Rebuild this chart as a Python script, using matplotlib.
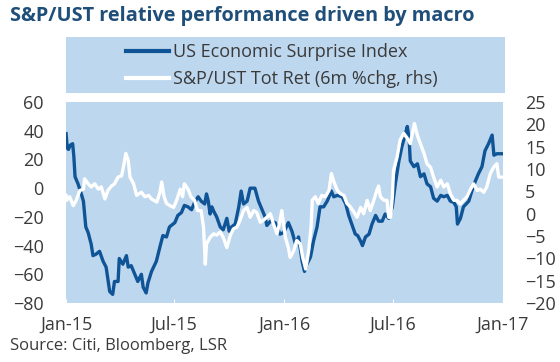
import pandas as pd
import matplotlib
matplotlib.use("Agg")
import matplotlib.pyplot as plt
import matplotlib.dates as mdates
from matplotlib.patches import Rectangle
from matplotlib.lines import Line2D

plt.rcParams['font.family'] = ['Open Sans', 'DejaVu Sans']

# US Economic Surprise Index (lhs)
esi_dates = [
    "2015-01-01", "2015-01-03", "2015-01-05", "2015-01-08", "2015-01-12", "2015-01-14",
    "2015-01-16", "2015-01-21", "2015-01-25", "2015-01-30", "2015-02-03", "2015-02-07",
    "2015-02-12", "2015-02-15", "2015-02-20", "2015-02-26", "2015-03-04", "2015-03-09",
    "2015-03-15", "2015-03-20", "2015-03-23", "2015-03-29", "2015-03-31", "2015-04-06",
    "2015-04-12", "2015-04-15", "2015-04-20", "2015-04-26", "2015-05-01", "2015-05-07",
    "2015-05-10", "2015-05-15", "2015-05-18", "2015-05-24", "2015-06-01", "2015-06-07",
    "2015-06-12", "2015-06-18", "2015-06-23", "2015-07-02", "2015-07-07", "2015-07-13",
    "2015-07-18", "2015-07-24", "2015-07-30", "2015-08-04", "2015-08-10", "2015-08-15",
    "2015-08-21", "2015-08-24", "2015-08-27", "2015-08-30", "2015-09-02", "2015-09-05",
    "2015-09-10", "2015-09-16", "2015-09-21", "2015-09-27", "2015-10-01", "2015-10-05",
    "2015-10-11", "2015-10-17", "2015-10-21", "2015-10-25", "2015-10-31", "2015-11-05",
    "2015-11-13", "2015-11-19", "2015-11-25", "2015-11-30", "2015-12-03", "2015-12-09",
    "2015-12-17", "2015-12-25", "2015-12-31", "2016-01-08", "2016-01-14", "2016-01-20",
    "2016-01-25", "2016-01-31", "2016-02-04", "2016-02-08", "2016-02-14", "2016-02-19",
    "2016-02-25", "2016-03-01", "2016-03-07", "2016-03-13", "2016-03-20", "2016-03-24",
    "2016-03-30", "2016-04-07", "2016-04-13", "2016-04-18", "2016-04-24", "2016-04-29",
    "2016-05-03", "2016-05-08", "2016-05-11", "2016-05-16", "2016-05-22", "2016-05-27",
    "2016-06-02", "2016-06-07", "2016-06-13", "2016-06-18", "2016-06-24", "2016-06-30",
    "2016-07-05", "2016-07-11", "2016-07-16", "2016-07-22", "2016-07-25", "2016-07-28",
    "2016-07-30", "2016-08-05", "2016-08-11", "2016-08-16", "2016-08-22", "2016-08-27",
    "2016-09-02", "2016-09-07", "2016-09-13", "2016-09-19", "2016-09-24", "2016-09-30",
    "2016-10-05", "2016-10-11", "2016-10-15", "2016-10-17", "2016-10-22", "2016-10-27",
    "2016-11-05", "2016-11-10", "2016-11-16", "2016-11-21", "2016-11-27", "2016-12-02",
    "2016-12-08", "2016-12-14", "2016-12-17", "2016-12-22", "2016-12-31",
]
esi_vals = [
    38, 28, 27, 30, 31, 22,
    8, 3, -2, -9, -27, -31,
    -39, -47, -46, -44, -51, -55,
    -72, -74, -65, -65, -49, -53,
    -47, -55, -54, -60, -65, -60,
    -69, -73, -66, -58, -51, -41,
    -33, -34, -27, -24, -19, -17,
    -12, -13, -15, -10, -6, -9,
    -11, -4, -9, -18, -13, -16,
    -20, -27, -29, -21, -30, -27,
    -25, -13, -2, -11, -9, 0,
    0, -9, -15, -20, -26, -23,
    -24, -32, -31, -24, -30, -39,
    -34, -51, -58, -53, -48, -37,
    -27, -13, -13, -9, -2, -6,
    -5, -6, -11, -19, -26, -32,
    -33, -37, -40, -34, -32, -25,
    -19, -23, -23, -18, -21, -13,
    3, 19, 29, 38, 43, 35,
    19, 15, 17, 8, 10, 3,
    1, -7, -9, -5, -6, -5,
    -9, -10, -13, -25, -21, -13,
    -9, -2, 5, 10, 15, 26,
    31, 37, 23, 24, 24,
]

# S&P/UST total return, 6m % change (rhs)
spx_dates = [
    "2015-01-01", "2015-01-02", "2015-01-07", "2015-01-13", "2015-01-18", "2015-01-24",
    "2015-01-30", "2015-02-01", "2015-02-07", "2015-02-12", "2015-02-18", "2015-02-24",
    "2015-03-01", "2015-03-07", "2015-03-12", "2015-03-18", "2015-03-23", "2015-03-29",
    "2015-04-04", "2015-04-08", "2015-04-11", "2015-04-15", "2015-04-18", "2015-04-24",
    "2015-04-29", "2015-05-07", "2015-05-13", "2015-05-19", "2015-05-24", "2015-06-02",
    "2015-06-07", "2015-06-10", "2015-06-14", "2015-06-18", "2015-06-24", "2015-06-30",
    "2015-07-05", "2015-07-11", "2015-07-15", "2015-07-18", "2015-07-24", "2015-07-29",
    "2015-08-04", "2015-08-09", "2015-08-15", "2015-08-19", "2015-08-22", "2015-08-24",
    "2015-08-30", "2015-09-05", "2015-09-10", "2015-09-16", "2015-09-21", "2015-09-27",
    "2015-10-03", "2015-10-08", "2015-10-14", "2015-10-19", "2015-10-25", "2015-10-31",
    "2015-11-05", "2015-11-11", "2015-11-16", "2015-11-22", "2015-11-27", "2015-12-03",
    "2015-12-09", "2015-12-14", "2015-12-20", "2015-12-24", "2015-12-28", "2016-01-03",
    "2016-01-08", "2016-01-11", "2016-01-17", "2016-01-22", "2016-01-28", "2016-02-01",
    "2016-02-06", "2016-02-11", "2016-02-15", "2016-02-17", "2016-02-22", "2016-02-27",
    "2016-03-04", "2016-03-10", "2016-03-16", "2016-03-20", "2016-03-24", "2016-03-30",
    "2016-04-04", "2016-04-10", "2016-04-15", "2016-04-21", "2016-04-26", "2016-05-02",
    "2016-05-08", "2016-05-13", "2016-05-19", "2016-05-24", "2016-05-30", "2016-06-04",
    "2016-06-07", "2016-06-10", "2016-06-16", "2016-06-21", "2016-06-24", "2016-06-27",
    "2016-06-30", "2016-07-02", "2016-07-08", "2016-07-13", "2016-07-19", "2016-07-25",
    "2016-07-30", "2016-08-03", "2016-08-06", "2016-08-11", "2016-08-16", "2016-08-22",
    "2016-08-27", "2016-09-02", "2016-09-07", "2016-09-13", "2016-09-19", "2016-09-24",
    "2016-09-30", "2016-10-05", "2016-10-11", "2016-10-16", "2016-10-22", "2016-10-27",
    "2016-11-02", "2016-11-08", "2016-11-13", "2016-11-19", "2016-11-24", "2016-11-30",
    "2016-12-05", "2016-12-11", "2016-12-17", "2016-12-22", "2016-12-25", "2016-12-31",
]
spx_vals = [
    4.1, 3.0, 3.8, 1.8, 3.0, 5.2,
    5.5, 7.8, 6.7, 6.0, 6.7, 5.5,
    6.0, 3.3, 5.2, 6.2, 6.7, 8.2,
    8.5, 11.2, 13.5, 12.0, 8.2, 6.7,
    4.1, 4.8, 3.8, 4.1, 3.3, 2.6,
    4.8, 7.1, 3.8, 2.3, 1.8, 1.4,
    3.0, 5.5, 3.8, 6.7, 5.5, 3.8,
    3.0, 0.7, 0.7, -3.0, -11.3, -6.8,
    -5.3, -4.5, -4.8, -4.1, -5.3, -7.6,
    -4.8, -3.4, -3.0, -1.5, 0.7, 1.4,
    -0.8, 0.7, 0.3, -1.9, -1.5, -0.8,
    0.0, -2.3, -4.5, -2.3, 0.7, -5.3,
    -7.6, -9.8, -8.3, -6.0, -6.8, -9.8,
    -12.4, -8.3, -3.0, 3.0, 3.8, 2.3,
    4.1, 3.8, 5.2, 9.0, 7.2, 5.2,
    4.5, 4.1, 2.3, 1.5, 0.5, -0.8,
    1.4, 0.0, 3.0, 0.7, 3.0, 5.2,
    6.2, 3.8, 3.0, 3.0, -0.8, -0.8,
    3.8, 9.7, 12.7, 16.5, 18.0, 16.9,
    15.7, 18.3, 20.2, 17.5, 15.7, 13.5,
    11.2, 10.4, 8.2, 6.0, 7.5, 6.0,
    6.7, 4.5, 3.0, 3.0, 2.2, 3.0,
    3.8, 5.5, 6.7, 5.2, 5.5, 4.8,
    6.0, 9.0, 10.5, 11.2, 8.2, 8.2,
]

x_ticks = ["2015-01-01", "2015-07-01", "2016-01-01", "2016-07-01", "2017-01-01"]
left_ticks = [-80, -60, -40, -20, 0, 20, 40, 60]
right_ticks = [-20, -15, -10, -5, 0, 5, 10, 15, 20, 25]

bg = "#bdd7ee"
navy = "#0f5496"
title_col = "#1f4e79"
txt = "#3a3a3a"

fig = plt.figure(figsize=(5.6, 3.62), dpi=100)
ax = fig.add_axes([0.118, 0.163, 0.780, 0.555])
ax2 = ax.twinx()

ax.set_facecolor(bg)
ax.plot(pd.to_datetime(esi_dates), esi_vals, color=navy, lw=2.4)
ax2.plot(pd.to_datetime(spx_dates), spx_vals, color="white", lw=2.4)

ax.set_xlim(pd.Timestamp("2015-01-01"), pd.Timestamp("2017-01-01"))
ax.set_ylim(-80, 60)
ax2.set_ylim(-20, 25)
ax.set_yticks(left_ticks)
ax2.set_yticks(right_ticks)
ax.set_xticks(pd.to_datetime(x_ticks))
ax.xaxis.set_major_formatter(mdates.DateFormatter("%b-%y"))

for a in (ax, ax2):
    for s in a.spines.values():
        s.set_visible(False)
ax.tick_params(axis='x', direction='in', length=3, color='white', pad=9, labelsize=13, labelcolor=txt)
ax.tick_params(axis='y', length=0, pad=16, labelsize=13, labelcolor=txt)
ax2.tick_params(axis='y', length=0, pad=16, labelsize=13, labelcolor=txt)

# legend panel above the plot
fig.patches.append(Rectangle((0.118, 0.743), 0.784, 0.155, transform=fig.transFigure,
                             facecolor=bg, edgecolor='none', zorder=0))
handles = [Line2D([], [], color=navy, lw=3), Line2D([], [], color="white", lw=3)]
fig.legend(handles, ["US Economic Surprise Index", "S&P/UST Tot Ret (6m %chg, rhs)"],
           loc='upper left', bbox_to_anchor=(0.208, 0.905), frameon=False, borderpad=0,
           fontsize=13, handlelength=2.4, handletextpad=0.25, labelspacing=0.5,
           labelcolor=txt)

fig.text(0.018, 0.955, "S&P/UST relative performance driven by macro", fontsize=14.3,
         fontweight='bold', color=title_col, va='center')
fig.text(0.018, 0.045, "Source: Citi, Bloomberg, LSR", fontsize=12, color=txt, va='center')

fig.savefig("out.png", dpi=100)
